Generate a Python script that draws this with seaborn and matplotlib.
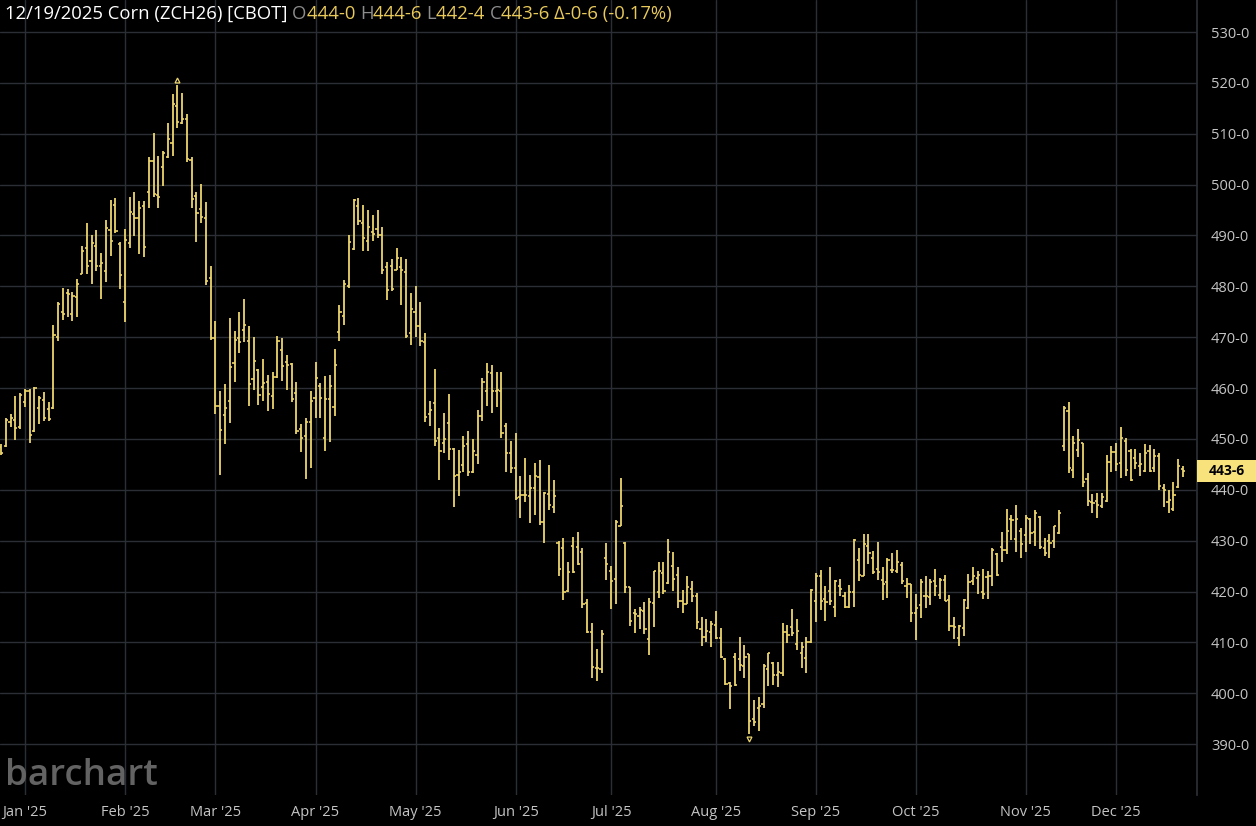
import pandas as pd
import matplotlib
matplotlib.use("Agg")
import matplotlib.pyplot as plt
import seaborn as sns
from matplotlib.patches import Rectangle

# ---- data: ZCH26 daily OHLC (cents/bu) ----
holidays = ["2024-12-25", "2025-01-01", "2025-01-20", "2025-02-17", "2025-04-18",
            "2025-05-26", "2025-06-19", "2025-07-04", "2025-09-01", "2025-11-27"]
dates = pd.bdate_range("2024-12-24", "2025-12-19", freq="C", holidays=holidays)

opens = [
    448.5, 448.6, 453.3, 453.8, 452.4, 457.3, 459.5, 451.5, 456.1, 457.7,
    455.9, 456.1, 470.1, 474.9, 478.6, 474.6, 478.0, 482.5, 487.5, 485.0,
    488.0, 484.0, 483.0, 491.0, 496.0, 488.4, 477.0, 488.5, 494.2, 493.5,
    495.8, 498.6, 504.6, 497.9, 503.5, 505.4, 508.2, 515.4, 512.1, 512.9,
    504.8, 497.8, 495.3, 493.5, 481.6, 469.9, 456.4, 454.8, 457.4, 465.0,
    469.8, 471.5, 469.3, 461.8, 463.5, 460.2, 461.2, 458.4, 462.2, 467.4,
    465.2, 464.8, 459.0, 451.9, 450.6, 453.3, 458.0, 460.5, 450.2, 457.9,
    456.3, 471.0, 474.1, 480.1, 487.4, 495.8, 492.5, 489.0, 490.7, 491.3,
    490.0, 483.8, 484.1, 483.3, 483.8, 482.8, 470.9, 475.0, 472.2, 469.1,
    454.9, 457.1, 450.2, 449.2, 453.1, 448.0, 442.9, 444.9, 449.0, 443.6,
    446.9, 454.6, 459.5, 462.9, 459.5, 459.5, 452.5, 447.2, 444.3, 438.6,
    438.9, 438.8, 440.3, 442.5, 433.7, 439.1, 436.6, 429.5, 428.6, 420.1,
    429.0, 428.8, 427.8, 417.8, 412.1, 405.0, 404.7, 426.6, 424.0, 422.4,
    432.9, 429.5, 420.8, 415.7, 415.2, 416.2, 410.6, 417.8, 419.9, 423.7,
    421.6, 425.1, 423.3, 418.1, 417.6, 420.5, 419.1, 412.7, 411.1, 412.1,
    413.4, 410.9, 406.7, 402.1, 407.2, 406.7, 405.4, 407.8, 394.9, 397.2,
    397.8, 404.7, 406.0, 403.6, 404.0, 412.0, 413.1, 409.6, 408.0, 407.0,
    410.1, 418.1, 423.0, 418.5, 420.1, 417.0, 421.0, 419.2, 417.0, 419.9,
    426.3, 423.1, 428.9, 426.6, 424.5, 422.3, 421.9, 424.3, 424.0, 425.3,
    421.0, 421.4, 415.7, 417.3, 419.1, 419.0, 422.0, 419.4, 422.2, 418.4,
    413.2, 410.9, 412.9, 416.8, 422.0, 422.7, 420.0, 422.9, 423.0, 427.3,
    428.8, 428.2, 434.2, 430.3, 431.9, 431.1, 434.3, 431.7, 434.7, 428.6,
    430.0, 429.9, 431.6, 448.7, 455.4, 443.9, 447.9, 449.2, 442.2, 437.6,
    437.8, 436.8, 437.8, 445.5, 447.5, 445.2, 449.5, 447.7, 446.3, 444.7,
    443.7, 447.7, 444.3, 446.7, 440.3, 437.7, 436.3, 440.5, 444.0,
]
highs = [
    449.0, 454.2, 454.9, 458.5, 459.0, 459.8, 459.8, 460.2, 458.5, 459.3,
    457.3, 472.4, 476.9, 479.6, 479.4, 478.8, 481.5, 488.0, 492.5, 490.0,
    491.0, 486.5, 493.0, 497.0, 497.3, 488.8, 491.2, 497.5, 498.6, 496.7,
    496.7, 505.4, 510.1, 505.6, 506.6, 512.1, 517.8, 519.6, 518.1, 513.9,
    505.4, 498.6, 500.2, 496.5, 484.0, 473.1, 459.5, 460.8, 473.7, 471.3,
    475.0, 477.6, 472.2, 470.1, 463.7, 465.7, 462.5, 463.1, 470.3, 469.9,
    466.5, 464.9, 461.2, 452.9, 454.1, 459.4, 465.2, 461.0, 462.4, 462.5,
    467.6, 476.3, 481.2, 490.0, 497.2, 497.4, 496.0, 495.0, 494.0, 495.0,
    491.7, 484.8, 485.3, 487.6, 485.8, 485.3, 478.6, 480.0, 477.0, 470.8,
    457.4, 463.7, 452.2, 455.1, 458.8, 448.2, 447.9, 450.5, 451.6, 449.9,
    455.6, 462.0, 464.9, 464.6, 463.1, 463.1, 453.1, 449.5, 451.2, 442.7,
    446.2, 442.9, 445.2, 445.9, 439.5, 444.8, 442.0, 430.0, 430.5, 425.8,
    430.7, 431.8, 428.6, 418.6, 413.9, 408.8, 412.4, 429.5, 425.1, 434.0,
    442.3, 429.7, 420.8, 416.6, 417.0, 418.0, 418.8, 424.1, 425.8, 425.8,
    430.3, 427.8, 424.8, 420.3, 423.0, 422.0, 419.7, 415.0, 414.6, 414.3,
    416.1, 412.9, 406.9, 402.2, 408.0, 411.1, 409.4, 407.8, 398.6, 399.2,
    405.8, 408.0, 406.2, 406.1, 413.8, 413.5, 416.6, 414.6, 410.1, 411.1,
    420.5, 423.7, 424.3, 421.0, 424.8, 422.2, 422.5, 419.9, 421.2, 430.3,
    428.5, 431.3, 431.3, 427.9, 429.8, 424.8, 426.5, 427.6, 428.2, 425.8,
    422.7, 421.5, 419.6, 422.5, 423.0, 422.5, 424.4, 422.7, 423.3, 419.3,
    415.0, 413.5, 418.6, 423.5, 424.8, 424.1, 424.4, 424.1, 428.6, 427.5,
    431.8, 436.3, 435.1, 437.0, 432.4, 435.1, 434.5, 436.1, 434.9, 430.6,
    431.4, 432.9, 436.1, 456.4, 457.2, 450.5, 452.0, 449.3, 443.4, 439.1,
    439.3, 439.3, 446.9, 448.6, 449.2, 452.3, 450.1, 448.1, 448.1, 447.3,
    449.1, 448.8, 448.1, 447.3, 441.1, 440.0, 441.5, 446.1, 444.75,
]
lows = [
    446.9, 448.4, 452.3, 449.7, 452.0, 456.2, 449.2, 451.4, 452.9, 453.5,
    453.5, 455.8, 469.3, 473.4, 474.0, 473.2, 473.9, 482.4, 482.4, 480.5,
    483.0, 477.6, 480.9, 486.0, 490.4, 479.5, 472.9, 487.6, 489.9, 486.3,
    485.8, 495.4, 497.5, 495.4, 499.7, 505.3, 505.7, 511.1, 512.0, 504.4,
    495.4, 488.8, 492.5, 480.3, 469.5, 455.0, 443.0, 449.0, 453.1, 461.1,
    466.9, 469.0, 456.4, 459.7, 456.6, 457.4, 455.4, 455.9, 462.0, 461.4,
    459.7, 457.2, 451.0, 447.5, 442.2, 444.2, 454.2, 454.2, 447.6, 449.4,
    454.5, 469.3, 472.4, 479.7, 487.1, 492.0, 487.0, 487.0, 488.9, 489.5,
    482.5, 477.3, 479.1, 483.2, 476.3, 469.9, 468.5, 470.1, 468.3, 453.4,
    452.6, 448.7, 442.0, 447.2, 445.9, 436.7, 438.7, 443.6, 442.8, 443.3,
    445.0, 453.6, 456.5, 455.2, 456.2, 450.1, 443.6, 443.3, 437.9, 434.4,
    437.7, 433.5, 435.1, 433.0, 429.5, 436.1, 435.4, 423.0, 418.3, 419.9,
    423.7, 425.3, 416.8, 411.9, 403.0, 402.5, 404.0, 422.2, 416.5, 417.6,
    432.8, 419.7, 413.3, 411.9, 412.7, 411.7, 407.5, 413.0, 418.8, 419.5,
    421.5, 420.1, 416.8, 415.8, 417.5, 417.9, 412.7, 409.3, 410.1, 409.0,
    410.6, 407.0, 401.6, 396.9, 401.4, 404.4, 403.1, 392.0, 393.6, 392.6,
    397.1, 401.4, 401.6, 401.3, 403.4, 409.9, 411.2, 408.6, 405.0, 404.0,
    409.9, 414.0, 416.3, 414.3, 417.3, 415.0, 419.1, 416.8, 416.8, 417.0,
    422.0, 423.0, 425.5, 423.5, 422.2, 418.3, 418.8, 423.7, 423.7, 421.4,
    418.8, 414.0, 410.5, 414.8, 416.8, 417.3, 419.1, 418.6, 418.1, 412.2,
    410.6, 409.3, 411.2, 416.5, 421.2, 419.5, 418.6, 418.6, 421.0, 423.0,
    425.9, 427.4, 430.1, 427.8, 426.6, 427.8, 429.3, 428.9, 428.3, 427.0,
    426.6, 428.6, 431.3, 447.7, 443.4, 442.4, 446.4, 440.6, 436.8, 435.4,
    434.5, 436.5, 437.7, 443.6, 443.7, 442.3, 442.8, 441.7, 444.0, 442.7,
    443.5, 443.5, 443.5, 440.0, 436.7, 435.5, 435.9, 440.3, 442.5,
]
closes = [
    447.2, 453.8, 454.1, 452.2, 458.6, 459.5, 450.7, 460.0, 458.0, 454.1,
    454.0, 470.5, 476.5, 474.5, 478.5, 478.1, 480.5, 487.0, 484.0, 488.5,
    484.0, 484.5, 491.5, 489.0, 490.8, 482.2, 489.1, 494.6, 493.5, 495.4,
    487.8, 504.6, 498.2, 497.5, 506.2, 508.9, 515.9, 512.3, 512.9, 505.1,
    497.1, 494.4, 493.7, 481.0, 469.8, 456.5, 451.8, 456.1, 464.2, 469.5,
    469.0, 472.5, 460.8, 465.4, 458.7, 461.0, 458.9, 462.2, 469.2, 464.3,
    464.6, 457.9, 451.5, 450.2, 453.3, 457.4, 462.0, 458.0, 457.8, 460.4,
    464.6, 474.9, 480.5, 488.8, 496.9, 492.8, 489.5, 491.7, 490.2, 490.0,
    483.2, 479.2, 479.5, 485.6, 483.3, 470.3, 475.5, 472.2, 469.2, 454.4,
    455.7, 449.5, 447.7, 450.0, 448.1, 442.8, 443.5, 448.7, 443.6, 447.7,
    454.6, 461.1, 463.1, 459.5, 459.6, 451.1, 447.2, 444.2, 438.4, 438.9,
    439.0, 440.3, 442.8, 433.7, 439.4, 437.1, 438.7, 424.5, 419.9, 423.8,
    423.9, 425.5, 417.6, 412.1, 405.1, 404.9, 411.6, 425.5, 422.0, 433.6,
    436.9, 420.8, 414.2, 415.6, 416.4, 412.7, 417.9, 424.0, 424.0, 420.1,
    427.7, 422.4, 418.1, 417.6, 420.8, 419.1, 414.1, 411.1, 412.2, 413.7,
    410.9, 407.1, 401.9, 401.4, 401.6, 405.6, 407.1, 394.6, 394.4, 397.5,
    405.4, 408.0, 403.5, 404.1, 412.0, 411.5, 411.9, 412.2, 409.0, 410.1,
    420.4, 423.0, 418.1, 418.0, 418.1, 422.0, 420.5, 417.0, 419.9, 430.2,
    423.3, 429.4, 427.6, 423.9, 423.8, 421.5, 426.3, 424.2, 425.8, 422.0,
    421.4, 415.7, 416.8, 421.8, 419.2, 421.8, 421.0, 422.2, 418.2, 413.2,
    413.0, 413.2, 418.4, 421.8, 423.0, 423.3, 419.5, 423.0, 428.1, 423.3,
    428.1, 432.0, 434.1, 434.2, 429.4, 434.4, 431.6, 435.4, 428.8, 427.5,
    429.5, 432.8, 435.4, 456.1, 444.2, 449.2, 449.7, 441.6, 437.8, 437.5,
    437.0, 438.5, 445.4, 447.4, 445.1, 450.1, 443.8, 442.0, 445.2, 445.0,
    447.3, 443.7, 446.7, 440.7, 440.0, 438.0, 439.0, 444.7, 443.75,
]

price_ticks = list(range(390, 531, 10))


def fmt_price(v):
    # corn quotes in cents and eighths: 443.75 -> 443-6
    whole = int(v)
    eighths = int(round((v - whole) * 8))
    return f"{whole}-{eighths}"


df = pd.DataFrame({"date": dates, "open": opens, "high": highs, "low": lows, "close": closes})
df["i"] = range(len(df))

sns.set_theme(style="dark", rc={"axes.facecolor": "black", "figure.facecolor": "black"})
plt.rcParams["font.family"] = ["Open Sans", "DejaVu Sans"]

W, H = 1256, 826
fig = plt.figure(figsize=(W / 100, H / 100), dpi=100)
ax = fig.add_axes([0, 1 - 795 / H, 1197 / W, 795 / H])
ax.set_facecolor("black")

bar_color = "#ecd56c"
ax.vlines(df["i"], df["low"], df["high"], color=bar_color, lw=1.3)
ax.hlines(df["open"], df["i"] - 0.45, df["i"], color=bar_color, lw=1.2)
ax.hlines(df["close"], df["i"], df["i"] + 0.45, color=bar_color, lw=1.2)

# small markers at the period high / low
hi = df.loc[df["high"].idxmax()]
lo = df.loc[df["low"].idxmin()]
ax.plot(hi["i"], hi["high"] + 0.9, marker="^", ms=3.5, mfc="none", mec=bar_color, mew=0.9)
ax.plot(lo["i"], lo["low"] - 0.9, marker="v", ms=3.5, mfc="none", mec=bar_color, mew=0.9)

ax.set_xlim(-0.21, 250.95)
ax.set_ylim(380, 536.3)

# month gridlines at first trading day of each month
first_of_month = df.groupby(df["date"].dt.to_period("M"))["i"].min()
first_of_month = first_of_month[first_of_month > 0]
ax.set_xticks(first_of_month.values)
ax.set_xticklabels([d.strftime("%b '%y") for d in df.loc[first_of_month.values, "date"]])
ax.set_yticks(price_ticks)
ax.set_yticklabels([fmt_price(v) for v in price_ticks])
ax.yaxis.tick_right()

grid_color = "#2b2f35"
ax.grid(True, color=grid_color, lw=1)
ax.set_axisbelow(True)
ax.tick_params(axis="y", length=0, pad=10, labelsize=10.5, labelcolor="#c4c4c4")
ax.tick_params(axis="x", length=0, pad=7, labelsize=10.5, labelcolor="#c4c4c4")
for s in ax.spines.values():
    s.set_visible(False)
ax.spines["right"].set_visible(True)
ax.spines["right"].set_color(grid_color)

# watermark
ax.text(0.004, 0.013, "barchart", transform=ax.transAxes, fontsize=26.5, fontweight="semibold",
        color="#636363", ha="left", va="baseline")

# header
fig.canvas.draw()
renderer = fig.canvas.get_renderer()
last = df.iloc[-1]
pieces = [
    (f"{last['date']:%m/%d/%Y} Corn (ZCH26) [CBOT] ", "#ffffff"),
    ("O", "#8c8c8c"), (fmt_price(last["open"]) + " ", "#e8c95a"),
    ("H", "#8c8c8c"), (fmt_price(last["high"]) + " ", "#e8c95a"),
    ("L", "#8c8c8c"), (fmt_price(last["low"]) + " ", "#e8c95a"),
    ("C", "#8c8c8c"), (fmt_price(last["close"]) + " ", "#e8c95a"),
    ("\u0394-0-6 (-0.17%)", "#e8c95a"),
]
x = 5
for txt, col in pieces:
    t = fig.text(x / W, 1 - 14 / H, txt, color=col, fontsize=13.3, va="center", ha="left")
    bb = t.get_window_extent(renderer)
    x += bb.width

# last price tag
y_fig = fig.transFigure.inverted().transform(ax.transData.transform((0, last["close"])))[1]
fig.patches.append(Rectangle((1197 / W, y_fig - 11 / H), 59 / W, 22 / H, transform=fig.transFigure,
                             facecolor="#f7e27c", edgecolor="none"))
fig.text(1227 / W, y_fig, fmt_price(last["close"]), color="black", fontsize=10,
         fontweight="bold", ha="center", va="center")

fig.savefig("out.png", dpi=100, facecolor="black")
